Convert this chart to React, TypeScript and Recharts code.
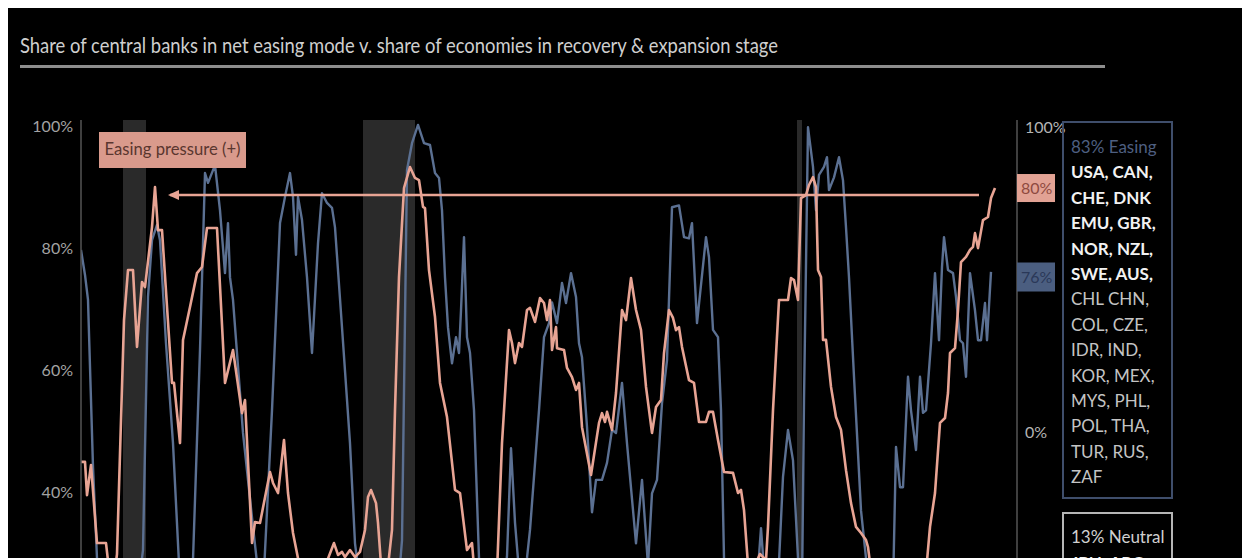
import React from 'react';
import { LineChart, Line, XAxis, YAxis, ReferenceArea, ReferenceLine, ReferenceDot } from 'recharts';

// time index (months-like units) and values
const netEasing: [number, number][] = [
  [0,-9.8],[4,-9.8],[6,-20.7],[10,-10.8],[16,-36.4],[25,-36.4],[29,-48],[33,-48],[36,-40],[43,36.7],
  [47,53.1],[52,53.1],[56,27.9],[61,49.2],[64,47.5],[71,67.2],[74,80.3],[77,66.2],[81,66.2],[91,16.1],
  [93,16.1],[99,-3.6],[102,30.2],[109,41.0],[116,52.1],[121,54.1],[126,66.9],[136,66.9],[144,16.1],[152,26.9],
  [161,6.2],[164,10.5],[171,-36.4],[174,-29.5],[179,-29.8],[189,-13.1],[192,-16.7],[197,-20.0],[203,-2.6],[207,-20.0],
  [212,-33.1],[221,-48],[237,-50],[253,-36.4],[257,-40.3],[261,-39.3],[264,-41],[269,-38.7],[274,-41],[279,-39.3],
  [284,-32.1],[287,-21.3],[290,-19.0],[295,-23.3],[297,-29.8],[301,-48],[306,-47],[311,-32.1],[314,7.2],[318,50.8],
  [323,80.0],[329,86.9],[334,83.3],[338,82.6],[342,73.8],[344,73.4],[348,53.1],[354,37.7],[359,16.1],[366,4.9],
  [374,-19.0],[379,-20.0],[386,-38.7],[391,-36.4],[394,-48],[409,-50],[416,-46],[421,-3.6],[428,33.4],[431,29.2],
  [434,22.6],[438,29.2],[441,27.9],[446,40.0],[449,40.7],[454,36.1],[459,43.9],[463,42.3],[466,36.7],[469,43.3],
  [471,26.9],[475,34.4],[476,27.5],[483,26.9],[486,21.0],[491,18.0],[495,13.8],[498,16.1],[501,1.6],[510,-14.1],
  [518,3.0],[521,6.2],[524,3.3],[526,6.6],[531,0.7],[535,12.8],[541,40.0],[545,36.7],[550,50.5],[555,40.0],
  [560,33.4],[565,14.8],[571,-0.3],[575,8.2],[580,10.5],[583,25.9],[588,40.0],[592,37.4],[595,33.4],[598,34.4],
  [601,27.9],[608,17.0],[613,16.1],[618,3.3],[625,3.3],[628,6.6],[632,6.6],[637,-2.6],[643,-13.1],[652,-13.4],
  [657,-20.0],[660,-19.0],[663,-25.6],[668,-48],[679,-40.0],[685,-42],[687,-31.1],[692,7.2],[698,43.3],[707,43.3],
  [710,50.5],[713,49.8],[717,43.3],[720,76.7],[725,77.7],[728,81.0],[732,83.6],[735,80.3],[737,53.1],[740,50.8],
  [742,30.2],[745,30.2],[750,14.8],[755,4.9],[760,0.7],[765,-12.5],[770,-23.3],[775,-31.1],[780,-33.1],[785,-35.4],
  [787,-37.7],[791,-48],[819,-55],[845,-46],[849,-31.1],[854,-20.0],[859,3.0],[864,4.6],[867,12.8],[869,25.9],
  [874,27.5],[877,40.0],[880,55.7],[885,57.4],[889,59.7],[892,60.7],[894,65.2],[897,60.3],[902,69.5],[907,70.5],
  [910,76.7],[914,80.0],
];

const recoveryShare: [number, number][] = [
  [0,79.7],[4,75.6],[7,71.5],[12,44.1],[16,29.2],[19,22],[54,20],[62,30.5],[67,72.0],[71,81.3],
  [76,83.8],[79,81.3],[85,64.4],[92,48.0],[99,25],[107,22],[112,28.9],[119,63.3],[124,92.3],[127,90.7],
  [134,93.6],[139,86.2],[144,75.9],[147,84.1],[149,75.2],[152,71.5],[162,49.7],[172,34.3],[177,27],[183,27],
  [191,53.4],[199,84.1],[204,88.4],[209,92.3],[212,88.4],[215,78.9],[217,88.4],[221,84.6],[226,75.2],[231,62.8],
  [237,80.8],[241,89.0],[246,87.4],[251,86.6],[254,83.4],[261,67.0],[269,48.0],[274,31.6],[279,25],[317,24],
  [321,32.1],[326,92.8],[331,97.2],[337,100.2],[343,97.2],[349,96.9],[354,92.3],[358,91.5],[361,86.2],[364,75.2],
  [367,67.0],[371,61.1],[375,65.4],[378,62.8],[380,69.8],[383,81.8],[386,65.4],[389,62.8],[393,53.4],[398,29.2],
  [404,24],[422,24],[426,29.5],[430,47.2],[434,35],[438,27],[442,25],[446,29.2],[449,33.8],[458,53.4],
  [463,65.4],[468,67.7],[471,71.1],[476,67.7],[481,74.3],[485,71.0],[490,75.9],[495,72.0],[498,64.4],[501,62.1],
  [506,50.7],[511,36.7],[515,42.0],[521,42.0],[526,44.8],[531,50.2],[535,49.7],[541,57.9],[546,48.0],[555,31.6],
  [561,42.0],[567,28],[571,39.8],[576,42.0],[581,54.6],[586,61.6],[591,86.7],[598,87.0],[603,81.8],[608,81.6],
  [611,84.1],[616,67.7],[625,81.8],[628,78.5],[632,66.6],[637,65.4],[640,53.4],[643,29.2],[647,24],[676,25],
  [680,34.1],[684,25],[697,25],[702,42.5],[707,50.2],[712,45.2],[717,29.2],[721,24],[723,55],[727,99.8],
  [732,93.3],[735,86.2],[738,92.0],[743,93.3],[746,94.9],[748,89.5],[753,91.6],[758,94.9],[762,91.1],[765,83.4],
  [768,75.2],[773,58.9],[780,37.0],[785,29.2],[789,24],[812,24],[815,47.4],[819,40.8],[822,40.8],[827,58.9],
  [830,53.4],[835,46.9],[839,58.9],[842,53.0],[845,53.4],[850,64.4],[854,75.9],[858,64.9],[861,76.9],[863,81.8],
  [867,76.4],[872,75.9],[875,72.0],[879,64.9],[882,64.4],[885,58.9],[889,75.9],[894,69.8],[897,64.9],[900,64.9],
  [904,71.0],[906,64.9],[910,76.1],
];

// shaded periods (start, end) in time index units
const shadedPeriods: [number, number][] = [[42, 65], [282, 334], [716, 721]];

const leftTicks = [40, 60, 80, 100];
const rightTicks = [0, 100];
const arrowLevel = 77.7;
const arrowFrom = 89;
const arrowTo = 898;
const lastT = 936;
const latestEasing = 80;
const latestRecovery = 76;

const easingLead = '83% Easing';
const easingBold = ['USA, CAN,', 'CHE, DNK', 'EMU, GBR,', 'NOR, NZL,', 'SWE, AUS,'];
const easingRest = ['CHL CHN,', 'COL, CZE,', 'IDR, IND,', 'KOR, MEX,', 'MYS, PHL,', 'POL, THA,', 'TUR, RUS,', 'ZAF'];
const neutralLead = '13% Neutral';
const neutralRest = ['JPN, ARG,'];

const title = 'Share of central banks in net easing mode v. share of economies in recovery & expansion stage';

const pinkData = netEasing.map(([t, v]) => ({ t, v }));
const blueData = recoveryShare.map(([t, v]) => ({ t, v }));

const FONT = "Lato, 'Noto Sans', sans-serif";
const PINK = '#e8a494';
const BLUE = '#5b7092';

const ArrowHead = (p: any) => (
  <polygon points={`${p.cx - 2},${p.cy} ${p.cx + 9},${p.cy - 5} ${p.cx + 9},${p.cy + 5}`} fill={PINK} />
);

const PinkBox = (p: any) => (
  <g>
    <rect x={p.cx} y={p.cy - 14} width={38} height={28} fill="#e2a294" />
    <text x={p.cx + 4} y={p.cy + 6} fontSize={16} fontFamily={FONT} fill="#8e4a40">{latestEasing}%</text>
  </g>
);

const BlueBox = (p: any) => (
  <g>
    <rect x={p.cx} y={p.cy - 10} width={38} height={29} fill="#4b5e80" />
    <text x={p.cx + 4} y={p.cy + 10} fontSize={16} fontFamily={FONT} fill="#2a3858">{latestRecovery}%</text>
  </g>
);

export default function App() {
  const W = 1234;
  const H = 550;
  return (
    <div style={{ position: 'absolute', left: 8, top: 8, width: W, height: H, background: '#000', overflow: 'hidden' }}>
      <LineChart width={W} height={H} margin={{ top: 112, right: 165, bottom: 0, left: 0 }}>
        <XAxis type="number" dataKey="t" domain={[0, lastT]} hide allowDataOverflow />
        <YAxis
          yAxisId="left"
          domain={[29.2, 101]}
          ticks={leftTicks}
          allowDataOverflow
          width={73}
          tickLine={false}
          axisLine={{ stroke: '#555', strokeWidth: 1.5 }}
          tickFormatter={(v: number) => `${v}%`}
          tick={{ fill: '#a3a3a3', fontSize: 16, fontFamily: FONT }}
        />
        <YAxis
          yAxisId="right"
          orientation="right"
          domain={[-41.3, 102.3]}
          ticks={rightTicks}
          allowDataOverflow
          width={60}
          tickLine={false}
          axisLine={{ stroke: '#555', strokeWidth: 1.5 }}
          tickFormatter={(v: number) => `${v}%`}
          tick={{ fill: '#b4b4b4', fontSize: 16, fontFamily: FONT, textAnchor: 'start' }}
        />
        {shadedPeriods.map(([a, b], i) => (
          <ReferenceArea key={i} yAxisId="left" x1={a} x2={b} fill="#2a2a2a" fillOpacity={1} stroke="none" ifOverflow="visible" />
        ))}
        <Line data={blueData} dataKey="v" yAxisId="left" type="linear" stroke={BLUE} strokeWidth={2.4} dot={false} isAnimationActive={false} strokeLinejoin="round" />
        <Line data={pinkData} dataKey="v" yAxisId="right" type="linear" stroke={PINK} strokeWidth={2.6} dot={false} isAnimationActive={false} strokeLinejoin="round" />
        <ReferenceLine yAxisId="right" segment={[{ x: arrowFrom, y: arrowLevel }, { x: arrowTo, y: arrowLevel }]} stroke={PINK} strokeWidth={2.5} ifOverflow="visible" />
        <ReferenceDot yAxisId="right" x={arrowFrom} y={arrowLevel} shape={ArrowHead} ifOverflow="visible" />
        <ReferenceDot yAxisId="right" x={lastT} y={latestEasing} shape={PinkBox} ifOverflow="visible" />
        <ReferenceDot yAxisId="left" x={lastT} y={latestRecovery} shape={BlueBox} ifOverflow="visible" />
      </LineChart>
      <svg width={W} height={H} style={{ position: 'absolute', left: 0, top: 0, pointerEvents: 'none' }}>
        <text x={12} y={45} fontSize={21} fontFamily={FONT} fill="#cfcfcf" textLength={758} lengthAdjust="spacingAndGlyphs">{title}</text>
        <rect x={12} y={57} width={1085} height={3} fill="#8e8e8e" />
        <rect x={91} y={124} width={147} height={36} fill="#d99a8c" />
        <text x={164.5} y={147} fontSize={18} fontFamily={FONT} fill="#5a362f" textAnchor="middle" textLength={136} lengthAdjust="spacingAndGlyphs">Easing pressure (+)</text>
        <rect x={1055} y={114} width={109} height={376} fill="none" stroke="#3f4e6b" strokeWidth={2} />
        <text x={1063} y={145} fontSize={17} fontFamily={FONT} fill="#4e5f80" fontWeight={400}>{easingLead}</text>
        {easingBold.map((s, i) => (
          <text key={s} x={1063} y={170.4 + i * 25.4} fontSize={17} fontFamily={FONT} fill="#f2f2f2" fontWeight={700}>{s}</text>
        ))}
        {easingRest.map((s, i) => (
          <text key={s} x={1063} y={170.4 + (i + 5) * 25.4} fontSize={17} fontFamily={FONT} fill="#c4c4c4">{s}</text>
        ))}
        <rect x={1055} y={505} width={109} height={100} fill="none" stroke="#b5b5b5" strokeWidth={2} />
        <text x={1063} y={535} fontSize={17} fontFamily={FONT} fill="#d0d0d0" fontWeight={400}>{neutralLead}</text>
        {neutralRest.map((s, i) => (
          <text key={s} x={1063} y={561 + i * 25.4} fontSize={17} fontFamily={FONT} fill="#f2f2f2" fontWeight={700}>{s}</text>
        ))}
      </svg>
    </div>
  );
}
